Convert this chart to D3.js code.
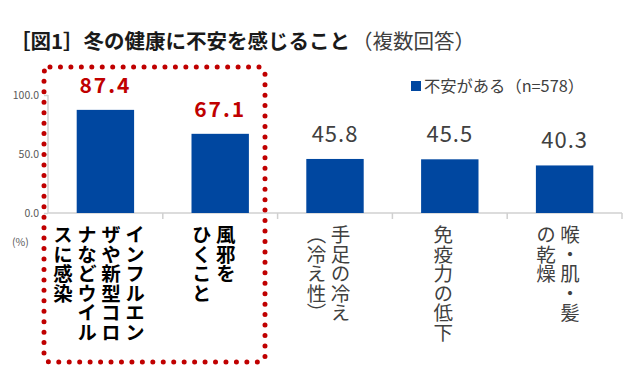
<!DOCTYPE html>
<html><head><meta charset="utf-8">
<script src="https://cdn.jsdelivr.net/npm/d3@7"></script>
<style>
html,body{margin:0;padding:0;background:#fff;}
svg{display:block;}
text{font-family:"Noto Sans CJK JP","Noto Sans",sans-serif;}
</style></head>
<body>
<svg id="chart" width="644" height="381"></svg>
<script>
const categories = ["インフルエンザや新型コロナなどウイルスに感染","風邪をひくこと","手足の冷え（冷え性）","免疫力の低下","喉・肌・髪の乾燥"];
const labelColumns = [
  ["インフルエン","ザや新型コロ","ナなどウイル","スに感染"],
  ["風邪を","ひくこと"],
  ["手足の冷え","（冷え性）"],
  ["免疫力の低下"],
  ["喉・肌・髪","の乾燥"]
];
const values = [87.4, 67.1, 45.8, 45.5, 40.3];
const highlighted = [true, true, false, false, false];
const yTicks = [0, 50, 100];
const seriesName = "不安がある（n=578）";
const titleBold = "［図1］冬の健康に不安を感じること";
const titleNormal = "（複数回答）";

const svg = d3.select("#chart");
const x = d3.scaleBand().domain(categories).range([48, 622]).paddingInner(0).paddingOuter(0);
const y = d3.scaleLinear().domain([0, 100]).range([213, 95]);
const barW = x.bandwidth() * 0.5;

// title
svg.append("text").attr("x", 10).attr("y", 49).attr("font-size", 20.5).attr("fill", "#1a1a1a")
  .attr("font-weight", "bold").attr("textLength", 340).attr("lengthAdjust", "spacingAndGlyphs").text(titleBold);
svg.append("text").attr("x", 352).attr("y", 49).attr("font-size", 20.5).attr("fill", "#404040")
  .attr("font-weight", "normal").attr("textLength", 123).attr("lengthAdjust", "spacingAndGlyphs").text(titleNormal);

// y axis
const yAxis = d3.axisLeft(y).tickValues(yTicks).tickFormat(d3.format(".1f")).tickSize(4).tickPadding(5);
const yg = svg.append("g").attr("transform", "translate(48,0)").call(yAxis);
yg.select(".domain").attr("stroke", "#d0d0d0").attr("stroke-width", 1.5).attr("d", `M0,${y(100)}V${y(0)}`);
yg.selectAll(".tick line").attr("stroke", "#d0d0d0").attr("stroke-width", 1.5);
yg.selectAll(".tick text").attr("fill", "#595959").attr("font-size", 10.5).attr("font-family", "'Noto Sans','DejaVu Sans',sans-serif");

// x axis
const xg = svg.append("g").attr("transform", `translate(0,${y(0)})`);
xg.append("line").attr("x1", 48).attr("x2", 622).attr("stroke", "#d0d0d0").attr("stroke-width", 1.5);
const bounds = categories.map(c => x(c)).concat([x(categories[categories.length-1]) + x.bandwidth()]);
xg.selectAll(".xt").data(bounds.slice(1)).join("line").attr("class","xt")
  .attr("x1", d => d).attr("x2", d => d).attr("y1", 0).attr("y2", 6)
  .attr("stroke", "#d0d0d0").attr("stroke-width", 1.5);

svg.append("text").attr("x", 12).attr("y", 246).attr("font-size", 10.5).attr("fill", "#595959")
  .attr("font-family", "'Noto Sans','DejaVu Sans',sans-serif").text("(%)");

// bars
svg.selectAll(".bar").data(values).join("rect").attr("class","bar")
  .attr("x", (d,i) => x(categories[i]) + (x.bandwidth()-barW)/2)
  .attr("y", d => y(d)).attr("width", barW).attr("height", d => y(0) - y(d))
  .attr("fill", "#0047A0");

// value labels
svg.selectAll(".val").data(values).join("text").attr("class","val")
  .attr("x", (d,i) => x(categories[i]) + x.bandwidth()/2)
  .attr("y", d => y(d) - 17)
  .attr("text-anchor", "middle")
  .attr("font-family", "'Noto Sans','Open Sans',sans-serif")
  .attr("font-size", (d,i) => highlighted[i] ? 21 : 22)
  .attr("font-weight", (d,i) => highlighted[i] ? "bold" : "normal")
  .attr("fill", (d,i) => highlighted[i] ? "#C00000" : "#404040")
  .attr("letter-spacing", (d,i) => highlighted[i] ? 2 : 1)
  .text(d => d.toFixed(1));

// category labels (vertical)
const colSpacing = 24;
labelColumns.forEach((cols, i) => {
  const cx = x(categories[i]) + x.bandwidth()/2 - 6.5;
  const n = cols.length;
  cols.forEach((txt, j) => {
    svg.append("text")
      .attr("x", cx + colSpacing*(n-1)/2 - j*colSpacing)
      .attr("y", 225)
      .attr("writing-mode", "vertical-rl")
      .attr("font-size", 19.5)
      .attr("font-weight", highlighted[i] ? "bold" : "normal")
      .attr("fill", highlighted[i] ? "#000" : "#404040")
      .text(txt);
  });
});

// legend
svg.append("rect").attr("x", 411).attr("y", 81).attr("width", 10).attr("height", 10).attr("fill", "#0047A0");
svg.append("text").attr("x", 424).attr("y", 92).attr("font-size", 16).attr("fill", "#404040")
  .attr("textLength", 160).attr("lengthAdjust", "spacingAndGlyphs").text(seriesName);

// dotted highlight box
svg.append("rect").attr("x", 44).attr("y", 67).attr("width", 221).attr("height", 295).attr("rx", 6)
  .attr("fill", "none").attr("stroke", "#C00000").attr("stroke-width", 5)
  .attr("stroke-linecap", "round").attr("stroke-dasharray", "0 10.45");
</script>
</body></html>
